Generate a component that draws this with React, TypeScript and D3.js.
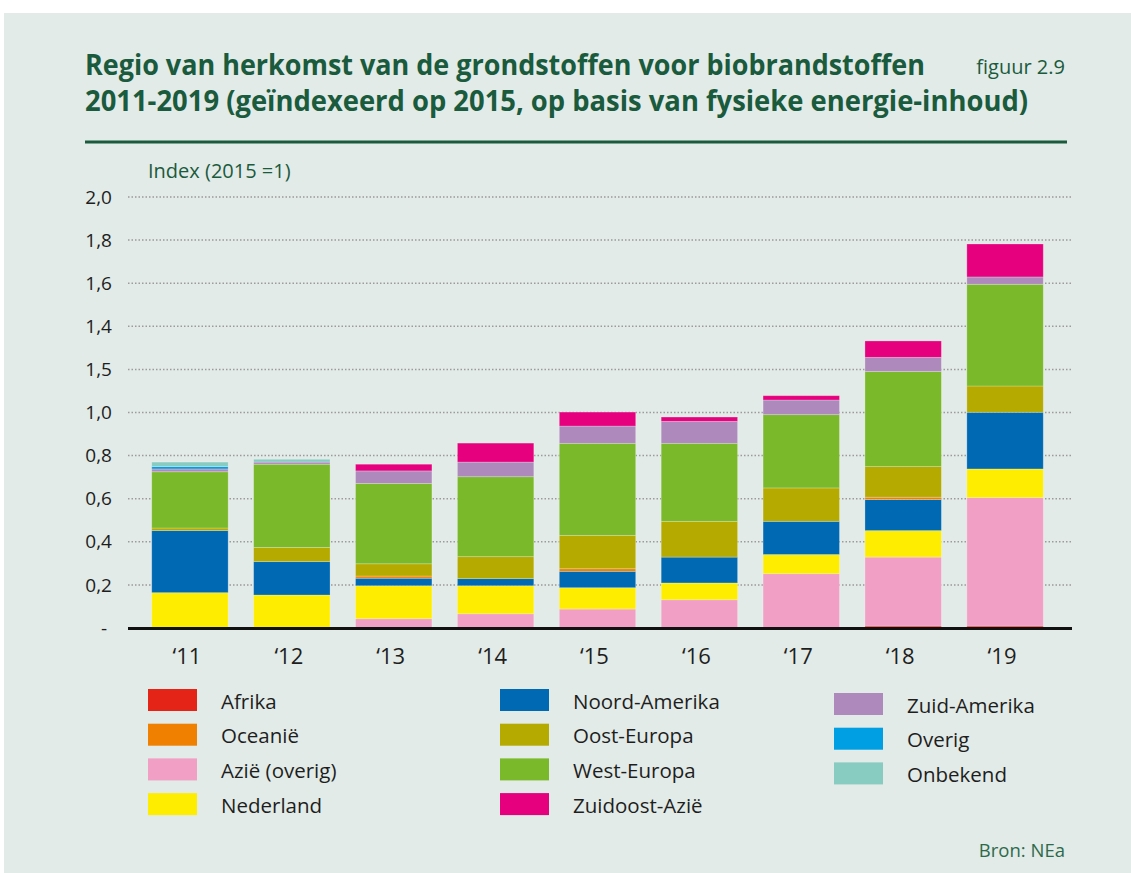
import * as d3 from 'd3';

const years = ['‘11', '‘12', '‘13', '‘14', '‘15', '‘16', '‘17', '‘18', '‘19'];

// values per region (index, 2015 = 1)
const afrika = [0, 0, 0, 0, 0, 0, 0, 0.009, 0.009];
const azie = [0, 0, 0.043, 0.066, 0.088, 0.131, 0.252, 0.32, 0.596];
const nederland = [0.164, 0.153, 0.153, 0.13, 0.099, 0.078, 0.089, 0.123, 0.133];
const noordAmerika = [0.288, 0.155, 0.035, 0.033, 0.076, 0.12, 0.154, 0.144, 0.263];
const oceanie = [0, 0, 0.01, 0, 0.012, 0, 0, 0.011, 0];
const oostEuropa = [0.012, 0.066, 0.057, 0.102, 0.155, 0.166, 0.155, 0.142, 0.122];
const westEuropa = [0.261, 0.386, 0.373, 0.371, 0.427, 0.362, 0.34, 0.441, 0.472];
const zuidAmerika = [0.013, 0.01, 0.058, 0.068, 0.08, 0.102, 0.068, 0.066, 0.034];
const zuidoostAzie = [0, 0, 0.031, 0.088, 0.065, 0.02, 0.02, 0.076, 0.153];
const overig = [0.011, 0, 0, 0, 0, 0, 0, 0, 0];
const onbekend = [0.021, 0.013, 0, 0, 0, 0, 0, 0, 0];

const yTicks = [0, 0.2, 0.4, 0.6, 0.8, 1.0, 1.2, 1.4, 1.6, 1.8, 2.0];
const yTickLabels = ['-', '0,2', '0,4', '0,6', '0,8', '1,0', '1,5', '1,4', '1,6', '1,8', '2,0'];

const series = [
  { key: 'Afrika', values: afrika, color: '#e42416' },
  { key: 'Azië (overig)', values: azie, color: '#f19fc4' },
  { key: 'Nederland', values: nederland, color: '#ffed00' },
  { key: 'Noord-Amerika', values: noordAmerika, color: '#0069b4' },
  { key: 'Oceanië', values: oceanie, color: '#f08100' },
  { key: 'Oost-Europa', values: oostEuropa, color: '#b5aa00' },
  { key: 'West-Europa', values: westEuropa, color: '#7ab929' },
  { key: 'Zuid-Amerika', values: zuidAmerika, color: '#ae89bc' },
  { key: 'Zuidoost-Azië', values: zuidoostAzie, color: '#e6007e' },
  { key: 'Overig', values: overig, color: '#009fe3' },
  { key: 'Onbekend', values: onbekend, color: '#88cbc1' },
];

const legendColumns = [
  ['Afrika', 'Oceanië', 'Azië (overig)', 'Nederland'],
  ['Noord-Amerika', 'Oost-Europa', 'West-Europa', 'Zuidoost-Azië'],
  ['Zuid-Amerika', 'Overig', 'Onbekend'],
];

const W = 1131;
const H = 873;
const green = '#1a5a3d';
const font = '"Open Sans", "DejaVu Sans", sans-serif';

export default function App() {
  const x = d3
    .scaleBand<string>()
    .domain(years)
    .range([139, 1056])
    .paddingInner(0.25)
    .paddingOuter(0.125);

  const y = d3.scaleLinear().domain([0, 2]).range([628, 197]);

  const table = years.map((yr, i) => {
    const row: Record<string, any> = { year: yr };
    series.forEach(s => (row[s.key] = s.values[i]));
    return row;
  });

  const stacked = d3.stack<any>().keys(series.map(s => s.key))(table);
  const colorOf = new Map(series.map(s => [s.key, s.color]));

  const legendX = [148, 500, 834];
  const legendY = [689, 689, 693];

  return (
    <svg
      width={W}
      height={H}
      style={{ position: 'absolute', left: 0, top: 0, fontFamily: font }}
    >
      <rect x={0} y={0} width={W} height={H} fill="#ffffff" />
      <rect x={4} y={13} width={W - 4} height={H - 13} fill="#e2ebe7" />

      {/* title */}
      <text
        x={85}
        y={75}
        fontSize={28.5}
        fontWeight={700}
        fill={green}
        textLength={840}
        lengthAdjust="spacingAndGlyphs"
      >
        Regio van herkomst van de grondstoffen voor biobrandstoffen
      </text>
      <text
        x={85}
        y={111}
        fontSize={28.5}
        fontWeight={700}
        fill={green}
        textLength={943}
        lengthAdjust="spacingAndGlyphs"
      >
        2011-2019 (geïndexeerd op 2015, op basis van fysieke energie-inhoud)
      </text>
      <text x={1065} y={74} fontSize={20} fill={green} textAnchor="end">
        figuur 2.9
      </text>
      <line x1={85} x2={1067} y1={142} y2={142} stroke={green} strokeWidth={3} />

      <text x={148} y={178} fontSize={20} fill={green}>
        Index (2015 =1)
      </text>

      {/* grid + y labels */}
      {yTicks.map((t, i) => (
        <g key={t}>
          {t > 0 && (
            <line
              x1={128}
              x2={1072}
              y1={y(t)}
              y2={y(t)}
              stroke="#9b9b9b"
              strokeWidth={1.5}
              strokeDasharray="1.5 2"
            />
          )}
          <text
            x={i === 0 ? 107 : 112}
            y={y(t)}
            dy="0.35em"
            fontSize={19}
            fill="#1e1e1e"
            textAnchor="end"
          >
            {yTickLabels[i]}
          </text>
        </g>
      ))}

      {/* bars */}
      {stacked.map(layer => (
        <g key={layer.key} fill={colorOf.get(layer.key)}>
          {layer.map((d, i) =>
            d[1] - d[0] > 0 ? (
              <rect
                key={i}
                x={x(years[i])}
                y={y(d[1])}
                width={x.bandwidth()}
                height={y(d[0]) - y(d[1])}
                stroke="rgba(255,255,255,0.3)"
                strokeWidth={0.8}
              />
            ) : null
          )}
        </g>
      ))}

      <line x1={128} x2={1072} y1={628.5} y2={628.5} stroke="#111" strokeWidth={3} />

      {/* x labels */}
      {years.map(yr => (
        <text
          key={yr}
          x={(x(yr) as number) + x.bandwidth() / 2 - 3}
          y={664}
          fontSize={22}
          fill="#1e1e1e"
          textAnchor="middle"
        >
          {yr}
        </text>
      ))}

      {/* legend */}
      {legendColumns.map((col, ci) =>
        col.map((name, ri) => {
          const top = legendY[ci] + ri * 34.7;
          return (
            <g key={name}>
              <rect x={legendX[ci]} y={top} width={49} height={22} fill={colorOf.get(name)} />
              <text x={legendX[ci] + 73} y={top + 19.5} fontSize={20.5} fill="#1e1e1e">
                {name}
              </text>
            </g>
          );
        })
      )}

      <text x={1065} y={857} fontSize={18.5} fill="#2c6a4c" textAnchor="end">
        Bron: NEa
      </text>
    </svg>
  );
}
